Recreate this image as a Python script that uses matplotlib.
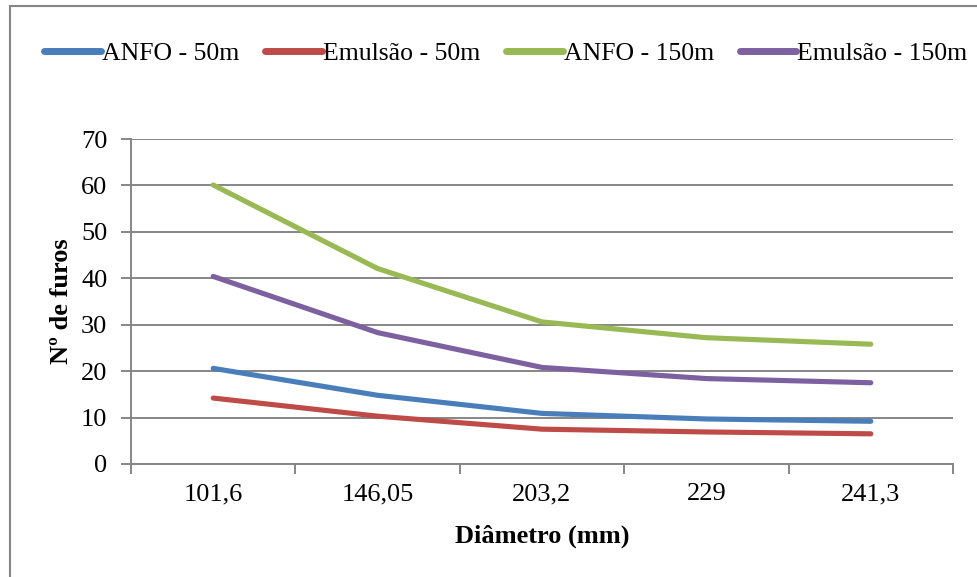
import matplotlib
matplotlib.use("Agg")
import matplotlib.pyplot as plt
from matplotlib.patches import Rectangle
from matplotlib.ticker import FixedLocator, NullFormatter

plt.rcParams['font.family'] = ['Liberation Serif', 'DejaVu Serif']

diametros = ["101,6", "146,05", "203,2", "229", "241,3"]
anfo_50 = [20.6, 14.8, 10.9, 9.7, 9.2]
emulsao_50 = [14.2, 10.3, 7.5, 6.9, 6.5]
anfo_150 = [60.1, 42.1, 30.6, 27.2, 25.8]
emulsao_150 = [40.4, 28.3, 20.8, 18.4, 17.5]

series = [
    ("ANFO - 50m", anfo_50, "#4A7EBB"),
    ("Emulsão - 50m", emulsao_50, "#BE4B48"),
    ("ANFO - 150m", anfo_150, "#98B954"),
    ("Emulsão - 150m", emulsao_150, "#7D60A0"),
]

W, H = 978, 577
fs = 19
fig = plt.figure(figsize=(W / 100, H / 100), dpi=100)
ax = fig.add_axes([131 / W, 1 - 464 / H, (953 - 131) / W, (464 - 139) / H])

grid_col = "#868686"
x = list(range(len(diametros)))
for name, vals, col in series:
    ax.plot(x, vals, color=col, lw=3.7, solid_capstyle="round",
            solid_joinstyle="round", label=name, zorder=3)

ax.set_xlim(-0.5, len(diametros) - 0.5)
ax.set_ylim(0, 70)
ax.set_yticks(range(0, 71, 10))
ax.yaxis.grid(True, color=grid_col, lw=1.4)
ax.set_axisbelow(True)

# category boundaries carry the tick marks, centres carry the labels
ax.xaxis.set_major_locator(FixedLocator([i - 0.5 for i in range(len(diametros) + 1)]))
ax.xaxis.set_major_formatter(NullFormatter())
ax.xaxis.set_minor_locator(FixedLocator(x))
ax.set_xticklabels(diametros, minor=True)
ax.tick_params(axis="x", which="major", length=7, width=1.4, color=grid_col, direction="out")
ax.tick_params(axis="x", which="minor", length=0, pad=14, labelsize=fs)
ax.tick_params(axis="y", length=7, width=1.4, color=grid_col, direction="out",
               pad=10, labelsize=fs)

for s in ("top", "right"):
    ax.spines[s].set_visible(False)
for s in ("left", "bottom"):
    ax.spines[s].set_color(grid_col)
    ax.spines[s].set_linewidth(1.4)

ax.set_xlabel("Diâmetro (mm)", fontsize=fs, fontweight="bold", labelpad=14)
ax.set_ylabel("Nº de furos", fontsize=fs, fontweight="bold", labelpad=6)

leg = fig.legend(loc="center", bbox_to_anchor=(506 / W, 1 - 54 / H), ncol=4,
                 frameon=False, fontsize=18.5, handlelength=2.2,
                 handletextpad=0.05, columnspacing=1.0, borderaxespad=0,
                 borderpad=0)
for h in leg.get_lines():
    h.set_linewidth(5)
    h.set_solid_capstyle("round")

fig.patches.append(Rectangle((10 / W, -0.1), 1.2, 1 - 6 / H + 0.1,
                             transform=fig.transFigure, fill=False,
                             edgecolor=grid_col, lw=1.5))

fig.savefig("out.png", dpi=100)
